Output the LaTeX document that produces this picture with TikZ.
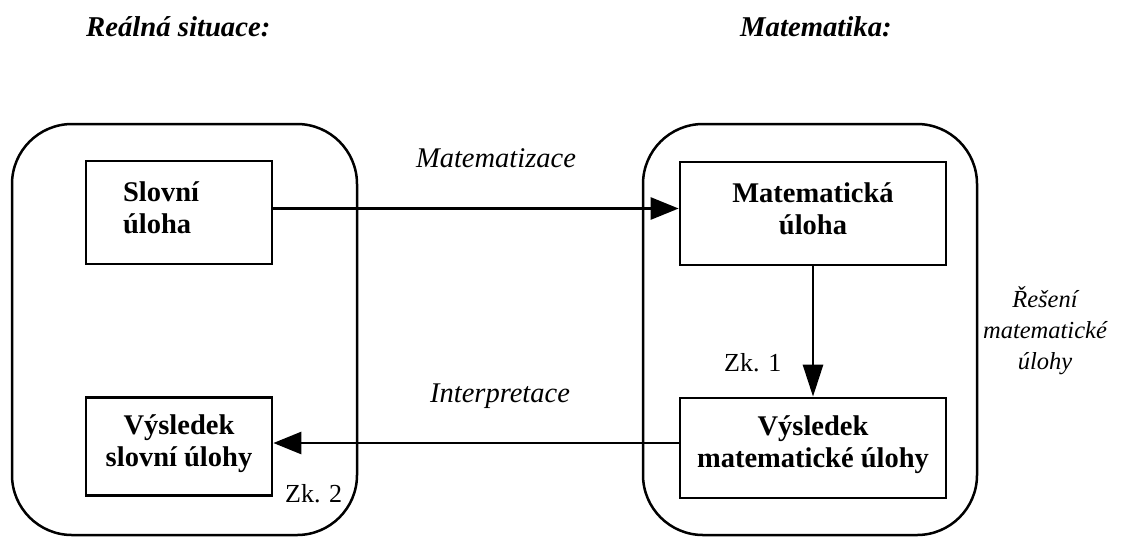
\documentclass[tikz,border=0pt]{standalone}
\usepackage{fontspec}
\setmainfont{Liberation Serif}
\usetikzlibrary{arrows.meta}
\tikzset{
  box/.style={draw, rectangle, line width=2.7pt, inner sep=0pt, align=center,
    font=\bfseries\fontsize{28.5}{32}\selectfont},
  bigbox/.style={draw, rectangle, line width=2.5pt, rounded corners=60pt, inner sep=0pt},
  arr/.style={line width=2.7pt, -{Triangle[length=28pt,width=22pt]}},
  varr/.style={line width=2.7pt, -{Triangle[length=32pt,width=20pt]}},
  lab/.style={font=\itshape\fontsize{28.5}{32}\selectfont, anchor=base, inner sep=0pt},
  head/.style={font=\bfseries\itshape\fontsize{28.7}{32}\selectfont, anchor=base west, inner sep=0pt},
  zk/.style={font=\fontsize{26}{30}\selectfont, anchor=base west, inner sep=0pt}
}
\begin{document}
\begin{tikzpicture}[x=1pt,y=-1pt]
\useasboundingbox (0,0) rectangle (1131,539);
% headings
\node[head] (hreal) at (86,36) {Reálná situace:};
\node[head] (hmat) at (740,36) {Matematika:};
% big rounded containers
\node[bigbox, minimum width=345pt, minimum height=411pt] (real) at (184.5,329.5) {};
\node[bigbox, minimum width=334pt, minimum height=411pt] (mat) at (810,329.5) {};
% inner boxes
\node[box, minimum width=186pt, minimum height=103pt, text width=112pt, inner xsep=37pt, align=left] (slovni) at (179,212.5) {Slovní\\úloha\rule[-10pt]{0pt}{0pt}};
\node[box, minimum width=186pt, minimum height=98pt] (vyss) at (179,446.5) {Výsledek\\slovní úlohy\rule[-12pt]{0pt}{0pt}};
\node[box, minimum width=266pt, minimum height=103pt] (matu) at (813,213.5) {Matematická\\úloha\rule[-10pt]{0pt}{0pt}};
\node[box, minimum width=266pt, minimum height=100pt] (vysm) at (813,448) {Výsledek\\matematické úlohy\rule[-12pt]{0pt}{0pt}};
% connectors
\draw[arr] ([yshift=4pt]slovni.east) -- ([yshift=5pt]matu.west);
\draw[arr] ([yshift=5pt]vysm.west) -- ([yshift=3.5pt]vyss.east);
\draw[varr] (matu.south) -- (vysm.north);
% labels
\node[lab] (lmat) at (496,167) {Matematizace};
\node[lab] (lint) at (500,402) {Interpretace};
\node[zk] (zk1) at (724,371) {Zk. 1};
\node[zk] (zk2) at (285,502) {Zk. 2};
\node[font=\itshape\fontsize{24.5}{31}\selectfont, align=center, inner sep=0pt] (reseni) at (1045,331) {Řešení\\matematické\\úlohy};
\end{tikzpicture}
\end{document}
